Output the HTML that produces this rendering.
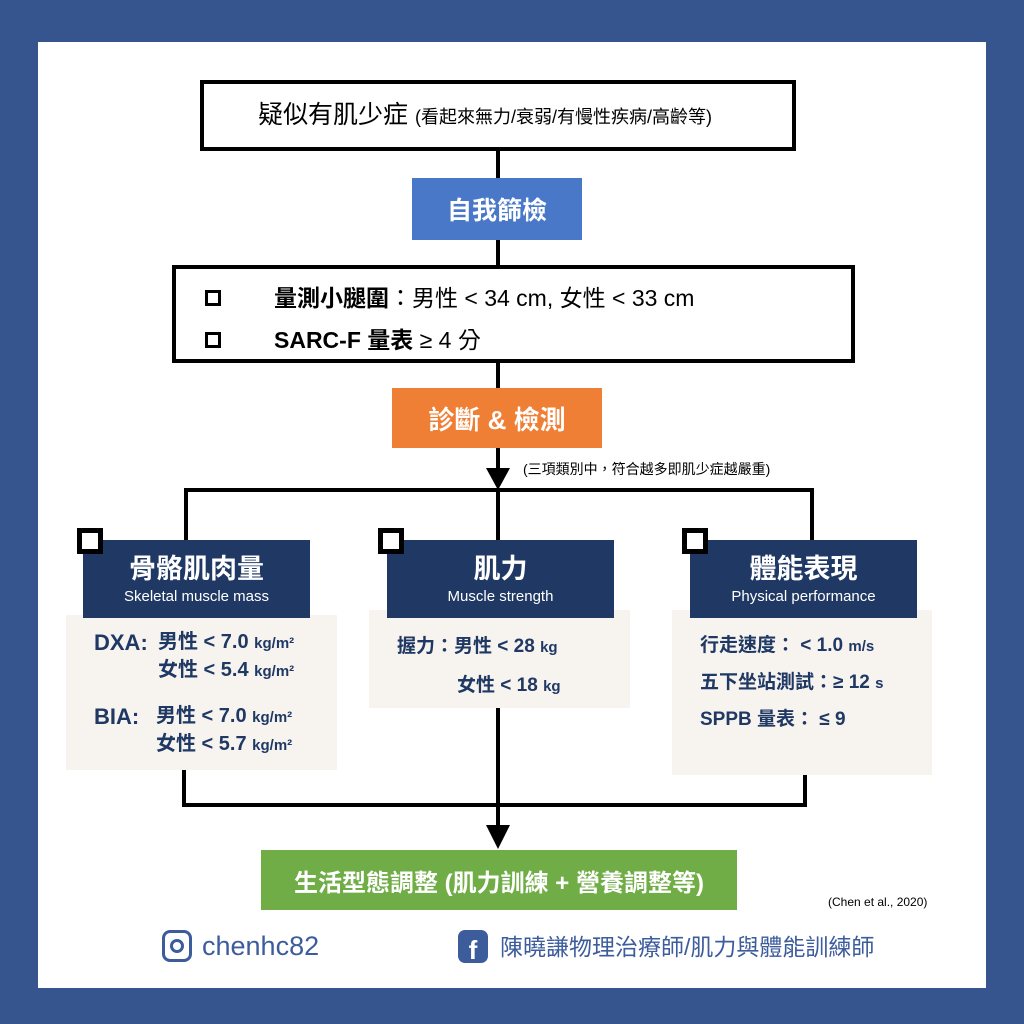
<!DOCTYPE html>
<html><head><meta charset="utf-8"><style>
*{margin:0;padding:0;box-sizing:border-box}
body{width:1024px;height:1024px;background:#36558f;position:relative;overflow:hidden;font-family:"Liberation Sans","Noto Sans CJK TC",sans-serif}
.a{position:absolute}
.panel{left:38px;top:42px;width:948px;height:946px;background:#fff}
.bx{border:4px solid #000;background:#fff}
.l{background:#000}
.c{display:flex;align-items:center;justify-content:center;color:#fff;font-weight:bold}
.navy{background:#1f3864;flex-direction:column}
.navy .t{font-size:27px;line-height:30px}
.navy .s{font-size:15px;font-weight:normal;margin-top:4px}
.cb{width:26px;height:26px;border:5px solid #000;background:#fff}
.beige{background:#f7f4ef;color:#1f3864;font-weight:bold}
.sm{font-size:15px}
</style></head><body>
<div class="a panel"></div>
<div class="a bx" style="left:200px;top:80px;width:596px;height:71px"></div>
<div class="a" style="left:258px;top:97px;font-size:25px;line-height:36px;white-space:nowrap">疑似有肌少症 <span style="font-size:18px">(看起來無力/衰弱/有慢性疾病/高齡等)</span></div>
<div class="a l" style="left:496px;top:150px;width:4px;height:30px"></div>
<div class="a c" style="left:412px;top:178px;width:170px;height:62px;background:#4a78c8;font-size:25px">自我篩檢</div>
<div class="a l" style="left:496px;top:240px;width:4px;height:26px"></div>
<div class="a bx" style="left:172px;top:265px;width:683px;height:98px"></div>
<div class="a" style="left:205px;top:290px;width:16px;height:16px;border:3px solid #000"></div>
<div class="a" style="left:205px;top:332px;width:16px;height:16px;border:3px solid #000"></div>
<div class="a" style="left:274px;top:283px;font-size:23px;line-height:30px;white-space:nowrap"><b>量測小腿圍</b>：男性 &lt; 34 cm, 女性 &lt; 33 cm</div>
<div class="a" style="left:274px;top:325px;font-size:23px;line-height:30px;white-space:nowrap"><b>SARC-F 量表</b> ≥ 4 分</div>
<div class="a l" style="left:496px;top:362px;width:4px;height:27px"></div>
<div class="a c" style="left:392px;top:388px;width:210px;height:60px;background:#ee7f35;font-size:26px">診斷 &amp; 檢測</div>
<div class="a l" style="left:496px;top:448px;width:4px;height:24px"></div>
<svg class="a" style="left:486px;top:468px" width="24" height="22"><polygon points="0,0 24,0 12,22" fill="#000"/></svg>
<div class="a" style="left:523px;top:459px;font-size:14px;white-space:nowrap">(三項類別中，符合越多即肌少症越嚴重)</div>
<div class="a l" style="left:184px;top:488px;width:630px;height:4px"></div>
<div class="a l" style="left:184px;top:488px;width:4px;height:54px"></div>
<div class="a l" style="left:496px;top:488px;width:4px;height:54px"></div>
<div class="a l" style="left:810px;top:488px;width:4px;height:54px"></div>

<div class="a beige" style="left:66px;top:615px;width:271px;height:155px">
<div class="a" style="left:28px;top:14px;font-size:22px;line-height:27px">DXA:</div>
<div class="a" style="left:92px;top:14px;font-size:20px;line-height:27px;white-space:nowrap">男性 &lt; 7.0 <span class="sm">kg/m²</span><br>女性 &lt; 5.4 <span class="sm">kg/m²</span></div>
<div class="a" style="left:28px;top:88px;font-size:22px;line-height:27px">BIA:</div>
<div class="a" style="left:90px;top:88px;font-size:20px;line-height:27px;white-space:nowrap">男性 &lt; 7.0 <span class="sm">kg/m²</span><br>女性 &lt; 5.7 <span class="sm">kg/m²</span></div>
</div>
<div class="a beige" style="left:369px;top:610px;width:261px;height:98px">
<div class="a" style="left:28px;top:18px;font-size:19px;line-height:38px;white-space:nowrap">握力：男性 &lt; 28 <span class="sm">kg</span><br><span style="padding-left:60px">女性 &lt; 18 <span class="sm">kg</span></span></div>
</div>
<div class="a beige" style="left:672px;top:610px;width:260px;height:165px">
<div class="a" style="left:28px;top:18px;font-size:19px;line-height:36px;white-space:nowrap">行走速度： &lt; 1.0 <span class="sm">m/s</span><br>五下坐站測試：≥ 12 <span class="sm">s</span><br>SPPB 量表： ≤ 9</div>
</div>

<div class="a c navy" style="left:83px;top:540px;width:227px;height:78px"><div class="t">骨骼肌肉量</div><div class="s">Skeletal muscle mass</div></div>
<div class="a c navy" style="left:387px;top:540px;width:227px;height:78px"><div class="t">肌力</div><div class="s">Muscle strength</div></div>
<div class="a c navy" style="left:690px;top:540px;width:227px;height:78px"><div class="t">體能表現</div><div class="s">Physical performance</div></div>
<div class="a cb" style="left:77px;top:528px"></div>
<div class="a cb" style="left:378px;top:528px"></div>
<div class="a cb" style="left:682px;top:528px"></div>

<div class="a l" style="left:182px;top:770px;width:4px;height:37px"></div>
<div class="a l" style="left:803px;top:775px;width:4px;height:32px"></div>
<div class="a l" style="left:182px;top:803px;width:625px;height:4px"></div>
<div class="a l" style="left:496px;top:708px;width:4px;height:120px"></div>
<svg class="a" style="left:486px;top:825px" width="24" height="24"><polygon points="0,0 24,0 12,24" fill="#000"/></svg>
<div class="a c" style="left:261px;top:850px;width:476px;height:60px;background:#70ad47;font-size:24px;white-space:nowrap">生活型態調整 (肌力訓練 + 營養調整等)</div>
<div class="a" style="left:828px;top:895px;font-size:12px">(Chen et al., 2020)</div>

<div class="a" style="left:162px;top:930px;width:30px;height:32px;border:3px solid #3d5c9c;border-radius:8px"></div>
<div class="a" style="left:170px;top:939px;width:14px;height:14px;border:3px solid #3d5c9c;border-radius:50%"></div>
<div class="a" style="left:202px;top:928px;font-size:27px;color:#3d5c9c;line-height:36px">chenhc82</div>
<div class="a" style="left:458px;top:930px;width:30px;height:33px;background:#3d5c9c;border-radius:7px;color:#fff;font-weight:bold;font-size:26px;text-align:center;line-height:40px;overflow:hidden">f</div>
<div class="a" style="left:500px;top:929px;font-size:23px;color:#3d5c9c;line-height:36px;white-space:nowrap">陳曉謙物理治療師/肌力與體能訓練師</div>
</body></html>
